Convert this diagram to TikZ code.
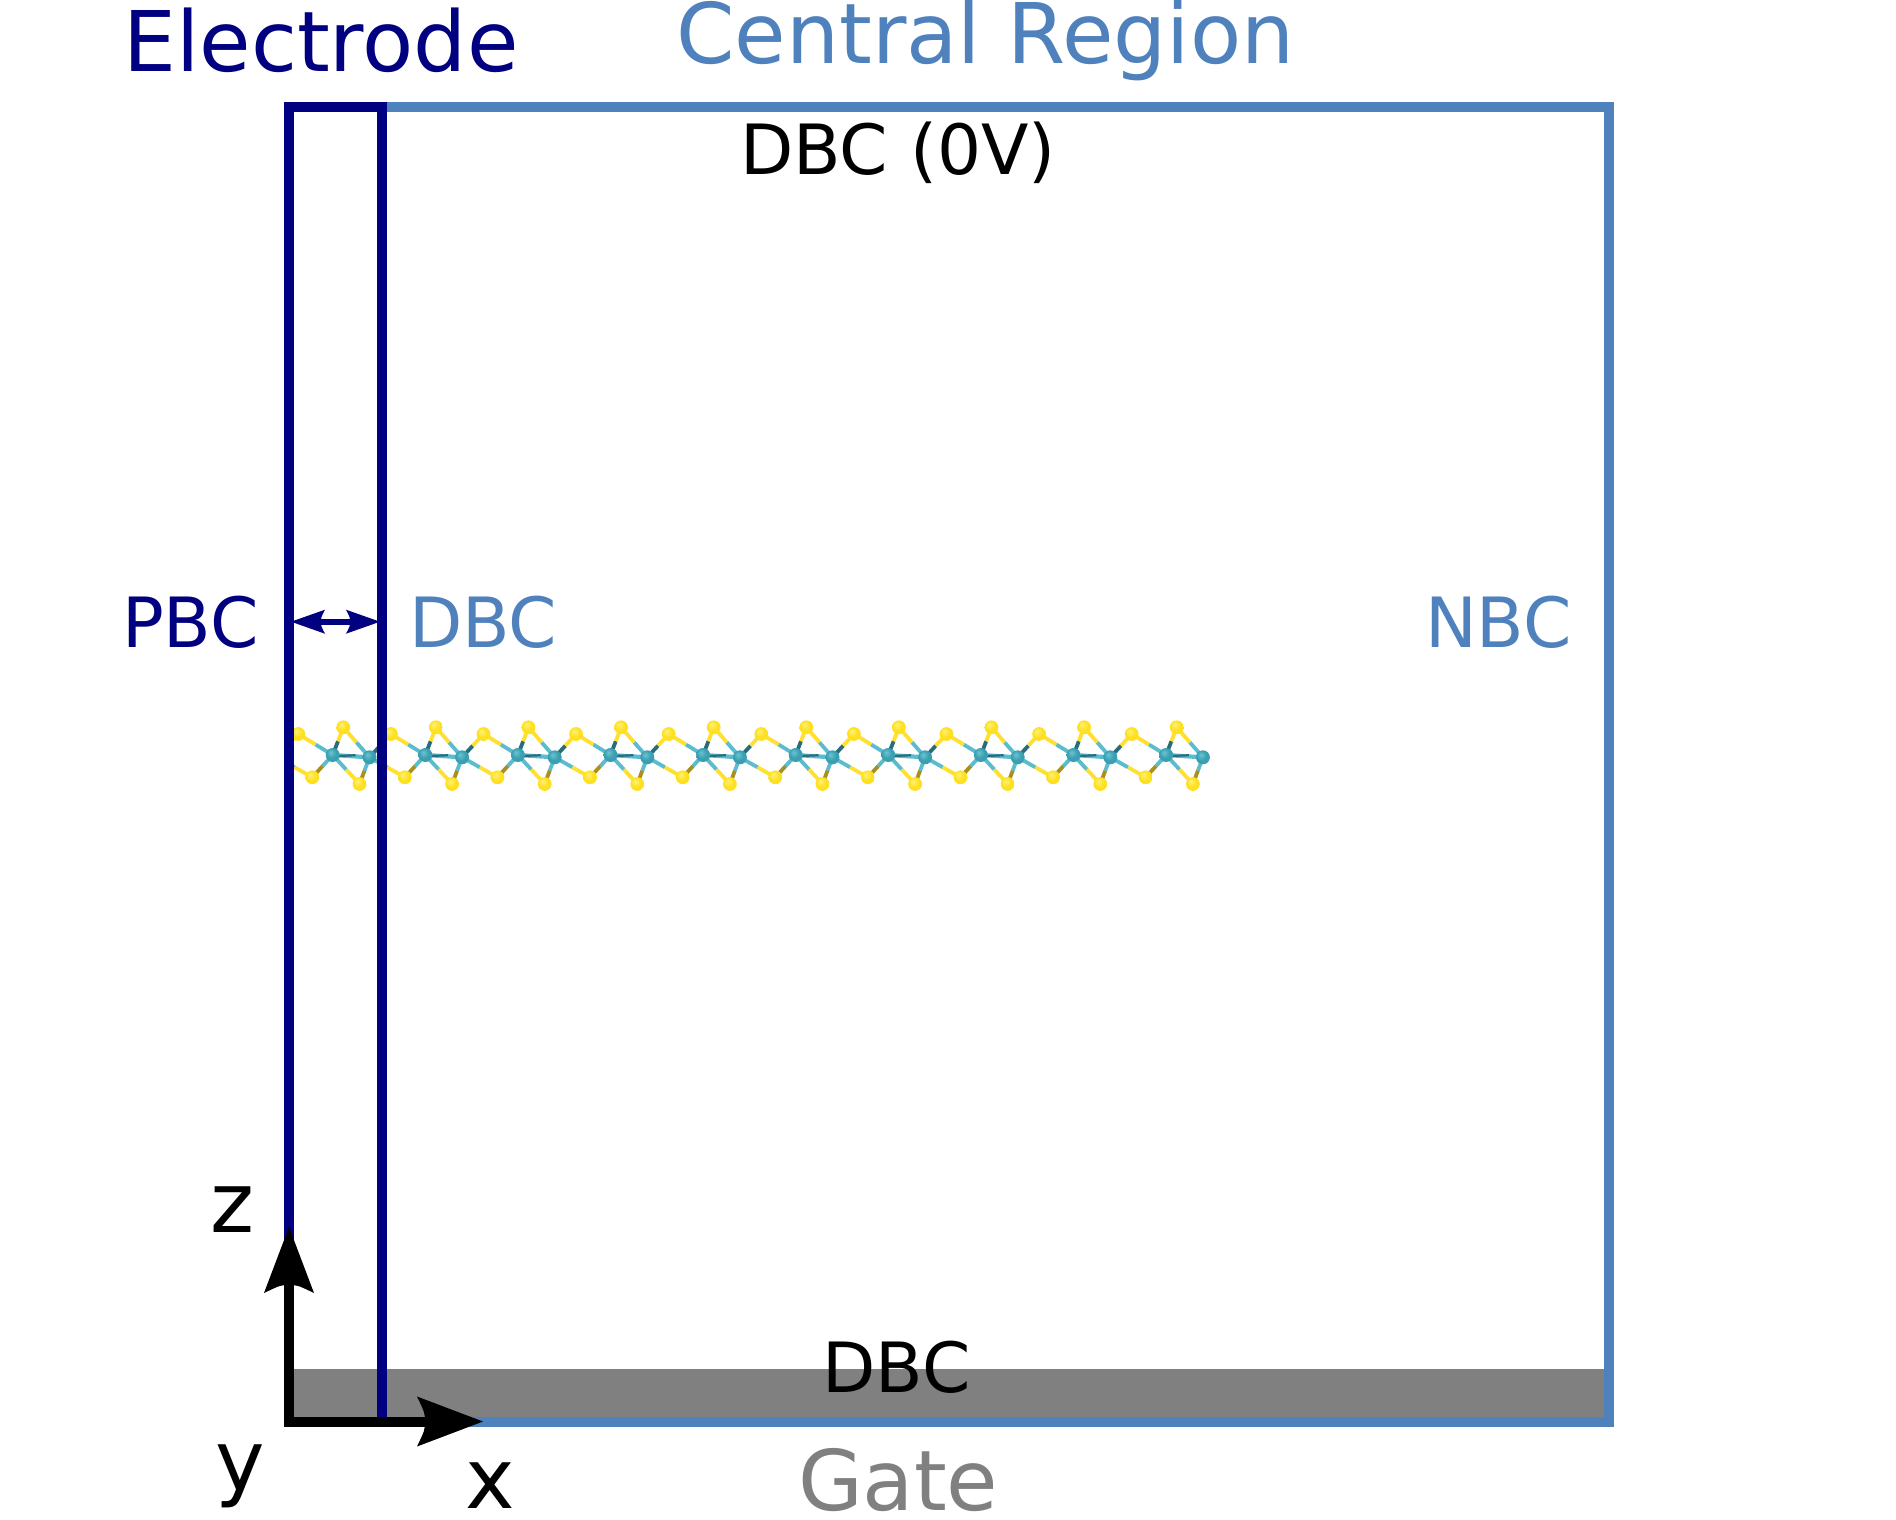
\documentclass[tikz,border=0pt]{standalone}
\usepackage{fontspec}
\setmainfont{DejaVu Sans}
\usetikzlibrary{calc,arrows.meta}
\definecolor{navyE}{HTML}{000080}
\definecolor{blueC}{HTML}{4F81BD}
\definecolor{grayG}{HTML}{808080}
\definecolor{yHi}{HTML}{FFF27A}
\definecolor{yMid}{HTML}{FFE020}
\definecolor{yLow}{HTML}{F0C010}
\definecolor{mHi}{HTML}{6CC4D2}
\definecolor{mMid}{HTML}{3A9FB0}
\definecolor{mLow}{HTML}{1F6E80}
\definecolor{bondT}{HTML}{5BBCD0}
\definecolor{bondD}{HTML}{2A6C7C}
\definecolor{bondY}{HTML}{FFE030}
\definecolor{bondO}{HTML}{A89020}
\pgfdeclareradialshading{yball}{\pgfpoint{-8bp}{10bp}}{color(0bp)=(yHi); color(18bp)=(yMid); color(38bp)=(yMid); color(50bp)=(yLow)}
\pgfdeclareradialshading{mball}{\pgfpoint{-8bp}{10bp}}{color(0bp)=(mHi); color(18bp)=(mMid); color(38bp)=(mMid); color(50bp)=(mLow)}
\pgfdeclarearrow{
  name=Barb,
  defaults={length=65pt,width=49pt},
  setup code={
    \pgfarrowssettipend{0pt}
    \pgfarrowssetlineend{-0.7\pgfarrowlength}
    \pgfarrowssetvisualbackend{-\pgfarrowlength}
    \pgfarrowshullpoint{0pt}{0pt}
    \pgfarrowsupperhullpoint{-\pgfarrowlength}{.5\pgfarrowwidth}
    \pgfarrowssavethe\pgfarrowlength
    \pgfarrowssavethe\pgfarrowwidth
  },
  drawing code={
    \pgfpathmoveto{\pgfpoint{0pt}{0pt}}
    \pgfpathlineto{\pgfpoint{-\pgfarrowlength}{.5\pgfarrowwidth}}
    \pgfpathcurveto{\pgfpoint{-.88\pgfarrowlength}{.17\pgfarrowwidth}}{\pgfpoint{-.88\pgfarrowlength}{.17\pgfarrowwidth}}{\pgfpoint{-.88\pgfarrowlength}{0pt}}
    \pgfpathcurveto{\pgfpoint{-.88\pgfarrowlength}{-.17\pgfarrowwidth}}{\pgfpoint{-.88\pgfarrowlength}{-.17\pgfarrowwidth}}{\pgfpoint{-\pgfarrowlength}{-.5\pgfarrowwidth}}
    \pgfpathclose
    \pgfusepathqfill
  },
  parameters={\the\pgfarrowlength,\the\pgfarrowwidth},
}
\tikzset{
  lbl/.style={anchor=base west,inner sep=0pt,outer sep=0pt},
  big/.style={lbl,font=\fontsize{83.7pt}{83.7pt}\selectfont},
  mid/.style={lbl,font=\fontsize{69.3pt}{69.3pt}\selectfont},
  bnd/.style={line width=3.8pt,line cap=butt},
  satom/.style={shading=yball},
  matom/.style={shading=mball},
}
\newcommand{\halfbond}[4]{%
  \draw[bnd,#3] (#1) -- ($(#1)!.5!(#2)$);
  \draw[bnd,#4] ($(#1)!.5!(#2)$) -- (#2);
}
\begin{document}
\begin{tikzpicture}[x=1pt,y=-1pt]
\useasboundingbox (0,0) rectangle (1896,1519);
\fill[white] (0,0) rectangle (1896,1519);
% corners
\coordinate (tl) at (289,107);
\coordinate (tm) at (382,107);
\coordinate (tr) at (1608.7,107);
\coordinate (bl) at (289,1421.5);
\coordinate (bm) at (382,1421.5);
\coordinate (br) at (1608.7,1421.5);
\coordinate (gt) at (289,1369);
\coordinate (ztip) at (289,1227);
\coordinate (xtip) at (483,1421.5);
\coordinate (pa) at (291,621.7);
\coordinate (pb) at (380,621.7);
% gate
\fill[grayG] (gt) rectangle (br);
% molecule
\begin{scope}
\clip (293,680) rectangle (1300,820);
\foreach \i in {-1,...,9}{
  \pgfmathsetmacro{\dx}{92.6*\i}
  \coordinate (ma\i) at (332.7+\dx,755);
  \coordinate (mb\i) at (369.5+\dx,757.3);
  \coordinate (st\i) at (343.3+\dx,727.3);
  \coordinate (sl\i) at (298.3+\dx,734);
  \coordinate (sb\i) at (312.3+\dx,777.3);
  \coordinate (sc\i) at (359.5+\dx,784);
}
\foreach \i in {-1,...,9}{
  \halfbond{ma\i}{st\i}{bondD}{bondY}
  \halfbond{ma\i}{sl\i}{bondT}{bondY}
  \halfbond{ma\i}{sb\i}{bondT}{bondO}
  \halfbond{ma\i}{sc\i}{bondT}{bondY}
  \halfbond{mb\i}{st\i}{bondT}{bondY}
  \halfbond{mb\i}{sc\i}{bondT}{bondO}
  \draw[line width=4.2pt,bondT] (ma\i) -- (mb\i);
  \draw[line width=2.2pt,bondD] ([yshift=-1.2pt]ma\i) -- ($(ma\i)!.62!(mb\i)+(0,-1.2)$);
  \ifnum\i<9
    \pgfmathtruncatemacro{\n}{\i+1}
    \halfbond{mb\i}{sl\n}{bondD}{bondY}
    \halfbond{mb\i}{sb\n}{bondT}{bondY}
  \fi
}
\foreach \i in {-1,...,9}{
  \foreach \a in {st,sl,sb,sc}{
    \path[satom] (\a\i) circle (6.9pt);
  }
  \path[matom] (ma\i) circle (7pt);
  \path[matom] (mb\i) circle (7pt);
}
\end{scope}
% frames
\draw[blueC,line width=10pt,line join=miter] (tl) rectangle (br);
\draw[navyE,line width=9.5pt,line join=miter] (tl) rectangle (bm);
% periodic arrow
\draw[navyE,line width=6pt,{Barb[length=34pt,width=24pt]}-{Barb[length=34pt,width=24pt]}] (pa) -- (pb);
% axes
\draw[line width=10pt,black,line join=miter,-{Barb[length=66pt,width=50pt]}] (bl) -- (ztip);
\draw[line width=10pt,black,line join=miter,-{Barb[length=66pt,width=50pt]}] ([xshift=-5pt]bl) -- (xtip);
% labels
\node[big,text=navyE] (electrode) at (123.5,71.7) {Electrode};
\node[big,text=blueC] (central) at (676.5,63) {Central Region};
\node[mid,text=black] (dbctop) at (740,174) {DBC (0V)};
\node[mid,text=navyE] (pbc) at (122,647) {PBC};
\node[mid,text=blueC] (dbcleft) at (409,647) {DBC};
\node[mid,text=blueC] (nbc) at (1425,647) {NBC};
\node[mid,text=black] (dbcbot) at (822.5,1392) {DBC};
\node[big,text=grayG] (gate) at (798,1510.7) {Gate};
\node[big,text=black] (zl) at (210,1232) {z};
\node[big,text=black] (yl) at (215.5,1490) {y};
\node[big,text=black] (xl) at (465,1508) {x};
\end{tikzpicture}
\end{document}
